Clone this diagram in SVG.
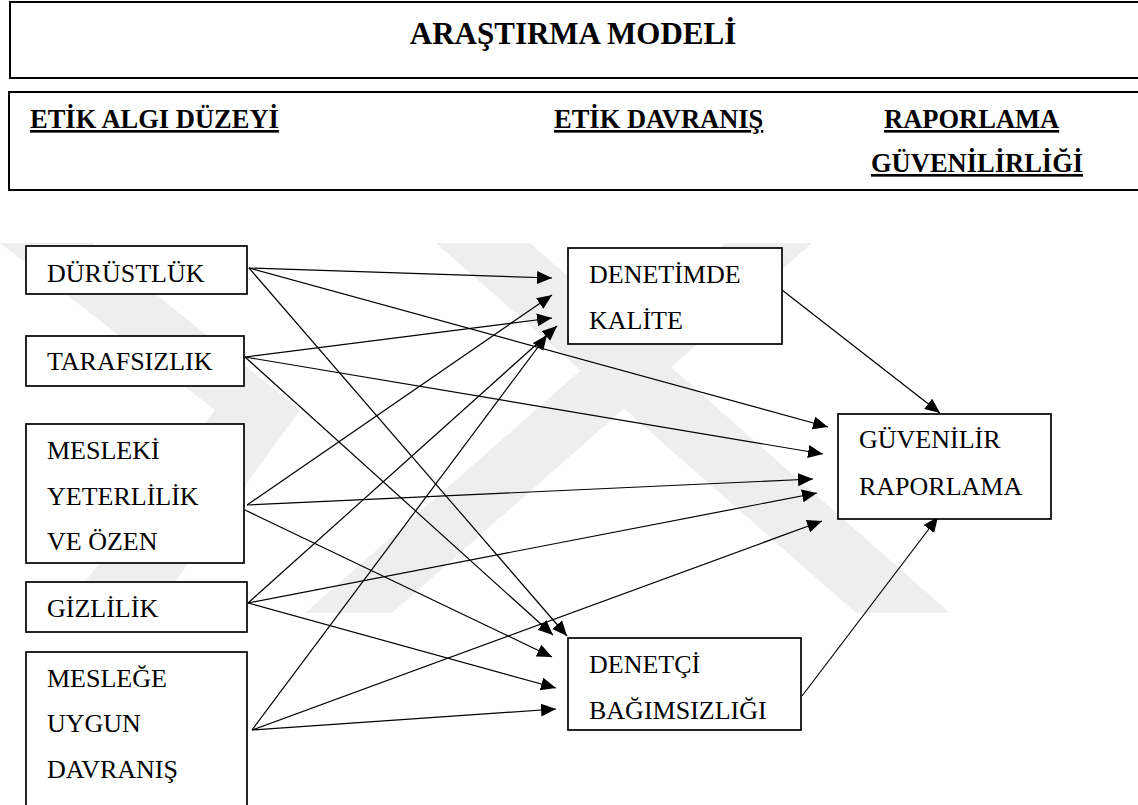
<svg xmlns="http://www.w3.org/2000/svg" width="1138" height="805" viewBox="0 0 1138 805">
<style>
.hb{fill:none;stroke:#000;stroke-width:2}
.nb{fill:#fff;stroke:#000;stroke-width:1.7}
.wm{fill:#eeeeee;stroke:none}
.t{font-family:"Liberation Serif","Times New Roman",serif;font-size:26px;fill:#000}
.h{font-family:"Liberation Serif","Times New Roman",serif;font-size:26.5px;font-weight:bold;fill:#000;text-decoration:underline}
.ttl{font-family:"Liberation Serif","Times New Roman",serif;font-size:31px;font-weight:bold;fill:#000}
.c{stroke:#000;stroke-width:1.2;fill:none;marker-end:url(#ah)}
</style>
<defs>
<marker id="ah" markerUnits="userSpaceOnUse" markerWidth="16" markerHeight="14" refX="15" refY="6.5" orient="auto">
<path d="M0,0 L15,6.5 L0,13 z" fill="#000"/>
</marker>
</defs>
<rect width="1138" height="805" fill="#fff"/>
<g id="watermark">
<polygon class="wm" points="0,243 92,243 300,410 175,582 85,582 215,410 0,243"/>
<polygon class="wm" points="436,243 530,243 950,613 856,613"/>
<polygon class="wm" points="305,613 392,613 812,243 725,243"/>
</g>
<g id="header">
<rect class="hb" x="10" y="2" width="1140" height="76"/>
<text class="ttl" x="573" y="44" text-anchor="middle">ARAŞTIRMA MODELİ</text>
<rect class="hb" x="9" y="92" width="1140" height="98"/>
<text class="h" x="30" y="128">ETİK ALGI DÜZEYİ</text>
<text class="h" x="554" y="128">ETİK DAVRANIŞ</text>
<text class="h" x="884" y="128">RAPORLAMA</text>
<text class="h" x="871" y="172">GÜVENİLİRLİĞİ</text>
</g>
<g id="connectors">
<line class="c" x1="249" y1="268" x2="552" y2="278"/>
<line class="c" x1="249" y1="268" x2="828" y2="427"/>
<line class="c" x1="249" y1="268" x2="567" y2="636"/>
<line class="c" x1="245" y1="357" x2="552" y2="318"/>
<line class="c" x1="245" y1="357" x2="823" y2="454"/>
<line class="c" x1="245" y1="357" x2="553" y2="635"/>
<line class="c" x1="247" y1="505" x2="552" y2="295"/>
<line class="c" x1="247" y1="505" x2="813" y2="479"/>
<line class="c" x1="245" y1="510" x2="552" y2="657"/>
<line class="c" x1="248" y1="603" x2="557" y2="326"/>
<line class="c" x1="248" y1="603" x2="817" y2="493"/>
<line class="c" x1="248" y1="603" x2="556" y2="688"/>
<line class="c" x1="252" y1="730" x2="547" y2="335"/>
<line class="c" x1="252" y1="730" x2="822" y2="521"/>
<line class="c" x1="252" y1="730" x2="556" y2="709"/>
<line class="c" x1="782" y1="290" x2="940" y2="413"/>
<line class="c" x1="802" y1="696" x2="938" y2="517"/>
</g>
<g id="n-durustluk"><rect class="nb" x="26" y="246" width="221" height="48"/><text class="t" x="47" y="282">DÜRÜSTLÜK</text></g>
<g id="n-tarafsizlik"><rect class="nb" x="26" y="336" width="218" height="50"/><text class="t" x="47" y="370">TARAFSIZLIK</text></g>
<g id="n-mesleki"><rect class="nb" x="26" y="424" width="218" height="139"/><text class="t" x="47" y="459">MESLEKİ</text><text class="t" x="47" y="505">YETERLİLİK</text><text class="t" x="47" y="550">VE ÖZEN</text></g>
<g id="n-gizlilik"><rect class="nb" x="26" y="582" width="221" height="50"/><text class="t" x="47" y="617">GİZLİLİK</text></g>
<g id="n-meslege"><rect class="nb" x="26" y="652" width="221" height="170"/><text class="t" x="47" y="687">MESLEĞE</text><text class="t" x="47" y="732">UYGUN</text><text class="t" x="47" y="778">DAVRANIŞ</text></g>
<g id="n-denetimde"><rect class="nb" x="568" y="248" width="214" height="96"/><text class="t" x="589" y="283">DENETİMDE</text><text class="t" x="589" y="329">KALİTE</text></g>
<g id="n-denetci"><rect class="nb" x="568" y="638" width="233" height="92"/><text class="t" x="589" y="673">DENETÇİ</text><text class="t" x="589" y="719">BAĞIMSIZLIĞI</text></g>
<g id="n-guvenilir"><rect class="nb" x="838" y="414" width="213" height="105"/><text class="t" x="859" y="448">GÜVENİLİR</text><text class="t" x="859" y="495">RAPORLAMA</text></g>
</svg>
